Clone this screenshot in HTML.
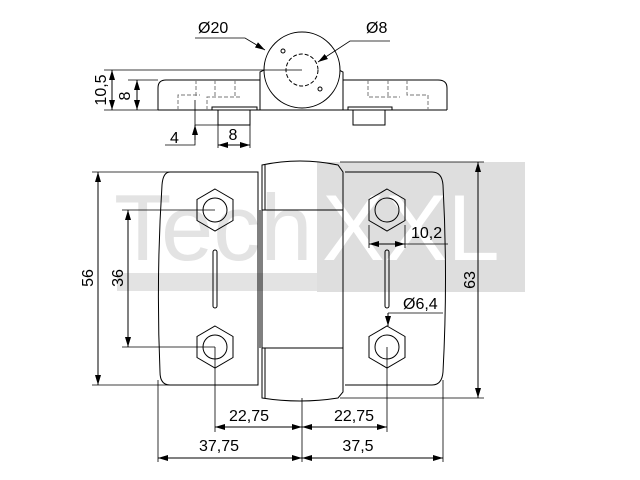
<!DOCTYPE html>
<html><head><meta charset="utf-8"><style>html,body{margin:0;padding:0;background:#fff}svg{display:block}</style></head>
<body>
<svg width="640" height="480" viewBox="0 0 640 480" xmlns="http://www.w3.org/2000/svg" font-family="Liberation Sans, sans-serif">
<defs>
<marker id="a" viewBox="0 0 10 6" refX="10" refY="3" markerWidth="10" markerHeight="6" orient="auto-start-reverse" markerUnits="userSpaceOnUse"><path d="M0,0 L10,3 L0,6 z" fill="#000"/></marker>
</defs>
<!-- watermark -->
<rect x="317" y="162" width="208" height="130" fill="#dedede"/>
<rect x="117" y="273" width="200" height="18" fill="#e3e3e3"/>
<text x="114" y="260" font-size="94" fill="#e3e3e3">Tech</text>
<text x="322" y="260" font-size="94" fill="#fff">XXL</text>

<g fill="none" stroke="#000" stroke-width="1">
<!-- top view -->
<path d="M158,110 L158,88 Q158,80 166,80 L260,80"/>
<path d="M343,80 L438,80 Q447,80 447,88 L447,110"/>
<path d="M158,110 L447,110"/>
<path d="M260,110 L260,72 L264,70 M343,110 L343,72 L339,70"/>
<circle cx="302" cy="70" r="38" fill="#fff"/>
<circle cx="302" cy="70" r="16" stroke-dasharray="4,2"/>
<circle cx="283" cy="51" r="2"/><circle cx="320" cy="89" r="2"/>
<path d="M212,110 L212,107 L257,107 L257,110 M218,110 L218,125 L250,125 L250,110"/>
<path d="M348,110 L348,107 L392,107 L392,110 M353,110 L353,125 L385,125 L385,110"/>
<g stroke="#777" stroke-dasharray="4,2">
<path d="M178,110 L178,95 L200,95 M207,110 L207,97 L240,97 M196,80 L196,97 M215,80 L215,97 M235,80 L235,97"/>
<path d="M368,80 L368,97 L400,97 M388,80 L388,97 M407,80 L407,95 L428,95 L428,110"/>
</g>
<!-- top dims -->
<path d="M104,70 L302,70 M128,80 L158,80 M104,110 L158,110" stroke-width="0.8"/>
<path d="M112,70 L112,110" marker-start="url(#a)" marker-end="url(#a)"/>
<path d="M137,80 L137,110" marker-start="url(#a)" marker-end="url(#a)"/>
<path d="M195,125 L218,125 M195,100 L195,145 L165,145" stroke-width="0.8"/>
<path d="M195,140 L195,125" marker-end="url(#a)"/>
<path d="M218,125 L218,148 M250,125 L250,148" stroke-width="0.8"/>
<path d="M218,145 L250,145" marker-start="url(#a)" marker-end="url(#a)"/>
<path d="M195,38 L245,38 L265,50" marker-end="url(#a)" stroke-width="0.8"/>
<path d="M390,41 L350,41 L318,62" marker-end="url(#a)" stroke-width="0.8"/>

<!-- front view -->
<path d="M170,172 L258,172 L258,385 L170,385 Q160,385 160,372 Q156,278 162,185 Q163,172 170,172 Z"/>
<path d="M345,172 L432,172 Q442,172 443,185 Q448,278 443,372 Q442,385 432,385 L345,385"/>
<path d="M262,165 Q300,157 338,165 L343,172 L343,392 L338,398 Q300,404 262,398 Z"/>
<path d="M262,210 L343,210 M262,348 L343,348 M265,165 L265,210 M265,348 L265,398 M260,210 L260,348"/>
<g>
<polygon points="215,189 233,199.5 233,220.5 215,231 197,220.5 197,199.5"/>
<circle cx="215" cy="210" r="12"/>
<polygon points="215,326 233,336.5 233,357.5 215,368 197,357.5 197,336.5"/>
<circle cx="215" cy="347" r="12"/>
<polygon points="387,189 405,199.5 405,220.5 387,231 369,220.5 369,199.5"/>
<circle cx="387" cy="210" r="12"/>
<polygon points="387,326 405,336.5 405,357.5 387,368 369,357.5 369,336.5"/>
<circle cx="387" cy="347" r="12"/>
</g>
<rect x="213" y="250" width="4" height="58" rx="2"/>
<rect x="385" y="250" width="4" height="58" rx="2"/>
<!-- front dims -->
<g stroke-width="0.8">
<path d="M92,172 L258,172 M92,385 L258,385 M122,210 L215,210 M122,347 L215,347 M340,162 L484,162 M340,398 L484,398"/>
<path d="M158,380 L158,462 M302,398 L302,462 M443,380 L443,462 M215,347 L215,432 M387,347 L387,432"/>
<path d="M369,225 L369,248 M405,225 L405,248 M369,244 L448,244 M388,313 L443,313"/>
</g>
<path d="M98,172 L98,385" marker-start="url(#a)" marker-end="url(#a)"/>
<path d="M128,210 L128,347" marker-start="url(#a)" marker-end="url(#a)"/>
<path d="M478,162 L478,398" marker-start="url(#a)" marker-end="url(#a)"/>
<path d="M215,427 L302,427" marker-start="url(#a)" marker-end="url(#a)"/>
<path d="M302,427 L387,427" marker-start="url(#a)" marker-end="url(#a)"/>
<path d="M158,458 L302,458" marker-start="url(#a)" marker-end="url(#a)"/>
<path d="M302,458 L443,458" marker-start="url(#a)" marker-end="url(#a)"/>
<path d="M369,244 L405,244" marker-start="url(#a)" marker-end="url(#a)"/>
<path d="M388,313 L388,326" marker-end="url(#a)"/>
</g>

<g font-size="16" fill="#000">
<text x="198" y="33">Ø20</text>
<text x="366" y="33">Ø8</text>
<text x="233" y="140" text-anchor="middle">8</text>
<text x="170" y="143">4</text>
<text transform="translate(106,90) rotate(-90)" text-anchor="middle">10,5</text>
<text transform="translate(130,96) rotate(-90)" text-anchor="middle">8</text>
<text transform="translate(93,278) rotate(-90)" text-anchor="middle">56</text>
<text transform="translate(123,278) rotate(-90)" text-anchor="middle">36</text>
<text transform="translate(475,280) rotate(-90)" text-anchor="middle">63</text>
<text x="411" y="238">10,2</text>
<text x="403" y="309">Ø6,4</text>
<text x="249" y="421" text-anchor="middle">22,75</text>
<text x="354" y="421" text-anchor="middle">22,75</text>
<text x="219" y="451" text-anchor="middle">37,75</text>
<text x="358" y="451" text-anchor="middle">37,5</text>
</g>
</svg>
</body></html>
